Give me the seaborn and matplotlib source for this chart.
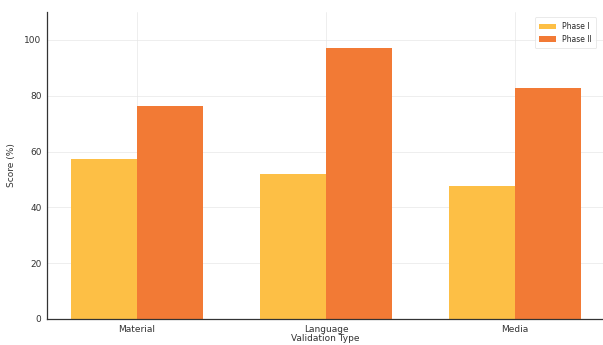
import matplotlib
matplotlib.use("Agg")
import matplotlib.pyplot as plt
import seaborn as sns
import pandas as pd

categories = ["Material", "Language", "Media"]
phase1 = [57.3, 51.9, 47.7]
phase2 = [76.2, 97.2, 82.8]
phases = ["Phase I", "Phase II"]
colors = ["#FDBF45", "#F27A35"]

df = pd.DataFrame({
    "Validation Type": categories * 2,
    "Score": phase1 + phase2,
    "Phase": [phases[0]] * 3 + [phases[1]] * 3,
})

sns.set_theme(style="whitegrid")
plt.rcParams["font.family"] = ["DejaVu Sans"]

fig = plt.figure(figsize=(6.03, 3.45), dpi=100)
ax = fig.add_axes([47/603, 26/345, 556/603, 307/345])
sns.barplot(data=df, x="Validation Type", y="Score", hue="Phase",
            palette=colors, width=0.7, saturation=1, ax=ax, errorbar=None,
            linewidth=0)

ax.set_ylim(0, 110)
ax.set_xlim(-0.476, 2.466)
ax.set_yticks([0, 20, 40, 60, 80, 100])
ax.grid(True, color="#e6e6e6", linewidth=0.6, alpha=0.8)
ax.set_axisbelow(True)
ax.set_facecolor("white")
for s in ["top", "right"]:
    ax.spines[s].set_visible(False)
for s in ["left", "bottom"]:
    ax.spines[s].set_visible(True)
    ax.spines[s].set_color("#333333")
    ax.spines[s].set_linewidth(0.9)
ax.tick_params(axis="both", labelsize=6.5, colors="#333333", length=2.5, width=0.6, pad=1.5)
ax.set_ylabel("Score (%)", fontsize=6.5, color="#333333", labelpad=6)
ax.set_xlabel("Validation Type", fontsize=6.5, color="#333333", labelpad=0.5)
leg = ax.legend(loc="upper right", fontsize=5.5, frameon=True, title=None,
                handlelength=2.2, borderpad=0.6, bbox_to_anchor=(0.995, 0.995))
leg.get_frame().set_edgecolor("#e0e0e0")
leg.get_frame().set_linewidth(0.6)

fig.savefig("out.png", dpi=100)
